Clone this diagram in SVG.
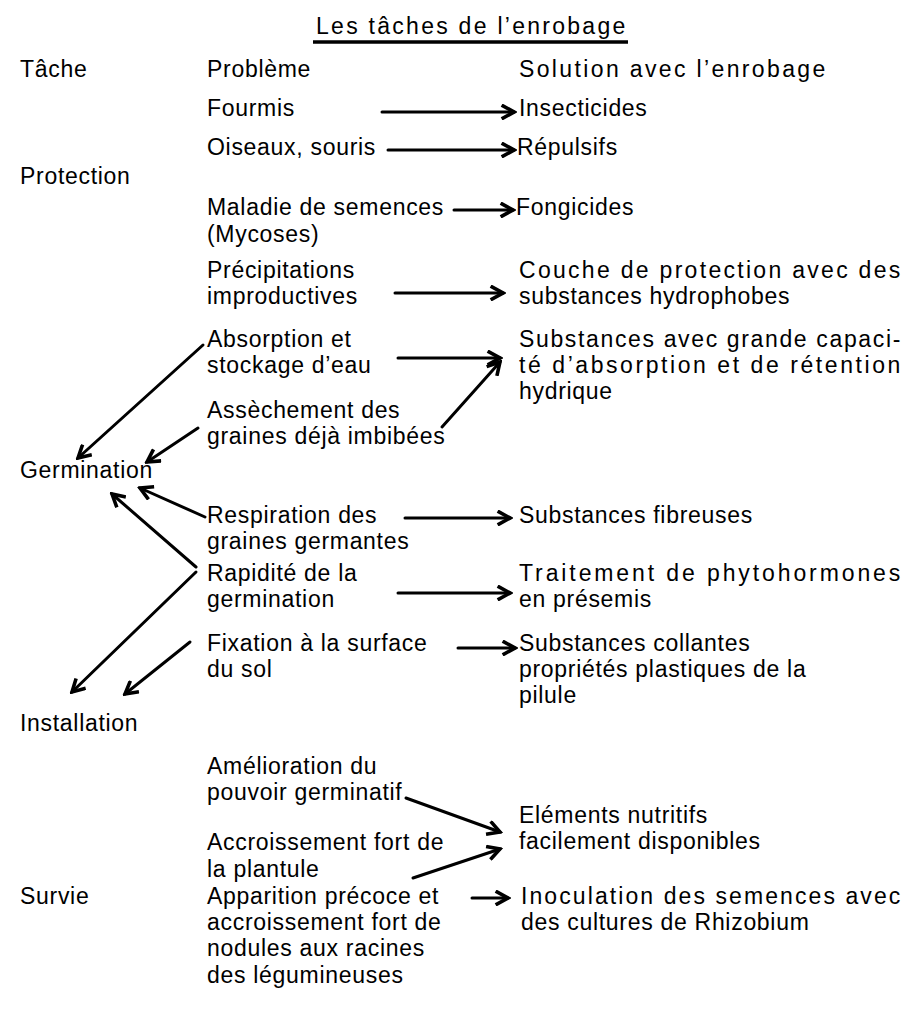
<svg xmlns="http://www.w3.org/2000/svg" width="906" height="1030" viewBox="0 0 906 1030">
<defs>
<style>
text{font-family:"Liberation Sans",Arial,sans-serif;font-size:23px;letter-spacing:0.7px;fill:#000}
.c{stroke:#000;stroke-width:3;fill:none;stroke-linecap:round}
</style>
<marker id="ah" viewBox="0 0 12 12" refX="10" refY="6" markerWidth="5.5" markerHeight="5.5" orient="auto" markerUnits="strokeWidth">
<path d="M1,1 L10,6 L1,11" fill="none" stroke="#000" stroke-width="2.6" stroke-linejoin="miter"/>
</marker>
</defs>
<rect width="906" height="1030" fill="#fff"/>
<g id="title">
<text x="316" y="34" textLength="310" lengthAdjust="spacing">Les tâches de l’enrobage</text>
<line x1="313" y1="42" x2="628" y2="42" stroke="#000" stroke-width="3.5"/>
</g>
<g id="headers">
<text x="20" y="77">Tâche</text>
<text x="207" y="77">Problème</text>
<text x="519" y="77" textLength="307" lengthAdjust="spacing">Solution avec l’enrobage</text>
</g>
<g id="taches">
<text id="t-protection" x="20" y="184">Protection</text>
<text id="t-germination" x="20" y="478">Germination</text>
<text id="t-installation" x="20" y="731">Installation</text>
<text id="t-survie" x="20" y="904">Survie</text>
</g>
<g id="problemes">
<g id="p1"><text x="207" y="116">Fourmis</text></g>
<g id="p2"><text x="207" y="155">Oiseaux, souris</text></g>
<g id="p3"><text x="207" y="215">Maladie de semences</text><text x="207" y="242">(Mycoses)</text></g>
<g id="p4"><text x="207" y="278">Précipitations</text><text x="207" y="304">improductives</text></g>
<g id="p5"><text x="207" y="347">Absorption et</text><text x="207" y="373">stockage d’eau</text></g>
<g id="p6"><text x="207" y="418">Assèchement des</text><text x="207" y="444">graines déjà imbibées</text></g>
<g id="p7"><text x="207" y="523">Respiration des</text><text x="207" y="549">graines germantes</text></g>
<g id="p8"><text x="207" y="581">Rapidité de la</text><text x="207" y="607">germination</text></g>
<g id="p9"><text x="207" y="651">Fixation à la surface</text><text x="207" y="677">du sol</text></g>
<g id="p10"><text x="207" y="774">Amélioration du</text><text x="207" y="800">pouvoir germinatif</text></g>
<g id="p11"><text x="207" y="850">Accroissement fort de</text><text x="207" y="877">la plantule</text></g>
<g id="p12"><text x="207" y="904">Apparition précoce et</text><text x="207" y="930">accroissement fort de</text><text x="207" y="956">nodules aux racines</text><text x="207" y="983">des légumineuses</text></g>
</g>
<g id="solutions">
<g id="s1"><text x="519" y="116">Insecticides</text></g>
<g id="s2"><text x="517" y="155">Répulsifs</text></g>
<g id="s3"><text x="516" y="215">Fongicides</text></g>
<g id="s4"><text x="519" y="278" textLength="382" lengthAdjust="spacing">Couche de protection avec des</text><text x="519" y="304">substances hydrophobes</text></g>
<g id="s5"><text x="519" y="347" textLength="382" lengthAdjust="spacing">Substances avec grande capaci-</text><text x="519" y="373" textLength="382" lengthAdjust="spacing">té d’absorption et de rétention</text><text x="519" y="399">hydrique</text></g>
<g id="s6"><text x="519" y="523">Substances fibreuses</text></g>
<g id="s7"><text x="519" y="581" textLength="382" lengthAdjust="spacing">Traitement de phytohormones</text><text x="519" y="607">en présemis</text></g>
<g id="s8"><text x="519" y="651">Substances collantes</text><text x="519" y="677">propriétés plastiques de la</text><text x="519" y="703">pilule</text></g>
<g id="s9"><text x="519" y="823">Eléments nutritifs</text><text x="519" y="849">facilement disponibles</text></g>
<g id="s10"><text x="521" y="904" textLength="380" lengthAdjust="spacing">Inoculation des semences avec</text><text x="521" y="930">des cultures de Rhizobium</text></g>
</g>
<g id="connectors" class="c">
<line x1="382" y1="112" x2="514" y2="112" marker-end="url(#ah)"/>
<line x1="388" y1="150" x2="514" y2="150" marker-end="url(#ah)"/>
<line x1="454" y1="210" x2="513" y2="210" marker-end="url(#ah)"/>
<line x1="395" y1="293" x2="503" y2="293" marker-end="url(#ah)"/>
<line x1="398" y1="358" x2="500" y2="358" marker-end="url(#ah)"/>
<line x1="442" y1="427" x2="500" y2="362" marker-end="url(#ah)"/>
<line x1="203" y1="345" x2="78" y2="458" marker-end="url(#ah)"/>
<line x1="198" y1="428" x2="147" y2="462" marker-end="url(#ah)"/>
<line x1="405" y1="518" x2="510" y2="518" marker-end="url(#ah)"/>
<line x1="205" y1="517" x2="140" y2="488" marker-end="url(#ah)"/>
<line x1="398" y1="593" x2="510" y2="593" marker-end="url(#ah)"/>
<line x1="196" y1="567" x2="112" y2="494" marker-end="url(#ah)"/>
<line x1="196" y1="572" x2="72" y2="692" marker-end="url(#ah)"/>
<line x1="458" y1="648" x2="515" y2="648" marker-end="url(#ah)"/>
<line x1="190" y1="642" x2="125" y2="694" marker-end="url(#ah)"/>
<line x1="406" y1="798" x2="500" y2="832" marker-end="url(#ah)"/>
<line x1="413" y1="878" x2="500" y2="849" marker-end="url(#ah)"/>
<line x1="472" y1="898" x2="508" y2="898" marker-end="url(#ah)"/>
</g>
</svg>
